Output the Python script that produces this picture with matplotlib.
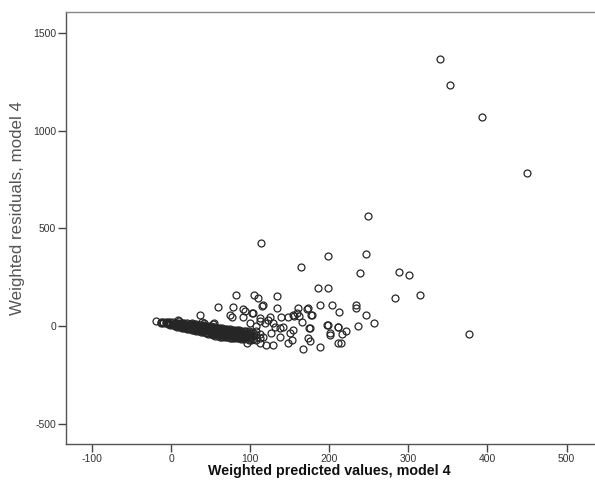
import matplotlib
matplotlib.use("Agg")
import matplotlib.pyplot as plt
import numpy as np

# Scattered (individually readable) points: weighted predicted value, weighted residual
pred_scatter = [340.6, 352.8, 393.7, 450.0, 249.0, 376.9,
                113.8, 198.0, 247.0, 164.8, 239.0, 288.8, 300.6, 283.0, 314.5, 186.0, 199.0,
                81.8, 105.0, 110.4, 133.6,
                59.8, 78.8, 91.0, 116.8, 134.0, 160.0, 173.0, 188.4, 203.0, 171.6,
                93.6, 104.0, 91.5, 76.7, 112.6, 125.0,
                36.7, 74.6, 102.8, 115.5, 39.0, 54.0, 10.5, 9.0, 26.0, 41.7, 53.5,
                155.6, 162.0, 165.0, 123.0, 139.0, 147.6, 112.6,
                154.7, 159.0, 178.0,
                129.0, 142.0, 154.7, 127.0, 138.0, 150.5, 152.6, 148.4, 173.6, 175.8, 167.0,
                199.0, 201.0, 188.4, 211.6, 211.6, 175.8, 138.0,
                100.0, 108.0, 119.0, 131.5, 95.7, 112.6, 120.0, 128.6, 116.8,
                177.0, 212.5, 233.6, 233.6, 246.0, 256.0, 236.5, 197.0, 211.0, 221.0, 216.0,
                201.0, 214.6, 174.5, -19.0]
resid_scatter = [1370, 1237, 1073, 786, 562, -41,
                 425, 360, 367, 303, 271, 278, 261, 142, 159, 197, 197,
                 159, 157, 145, 155,
                 99, 97, 87, 106, 91, 92, 94, 108, 108, 85,
                 79, 65, 48, 48, 39, 45,
                 56, 56, 65, 102, 22, 17, 27, 31, 17, 17, 10,
                 51, 51, 22, 31, 45, 45, 27,
                 56, 65, 56,
                 14, -3, -20, -38, -55, -38, -70, -89, -63, -75, -117,
                 5, -38, -108, -3, -89, -12, -12,
                 14, 0, 14, -3, -89, -89, -97, -97, -55,
                 58, 72, 106, 92, 58, 17, 2, 5, -7, -24, -41,
                 -48, -89, -12, 26]

# Dense cluster: columns of predicted value with the residuals stacked in each
band_cols = [-13, -10, -7, -4, -1, 2, 5, 8, 11, 14, 17, 20, 23, 26, 29, 32, 35, 38,
             41, 44, 47, 50, 53, 56, 59, 62, 65, 68, 71, 74, 77, 80, 83, 86, 89, 92,
             95, 98, 101, 104, 108, 112]
band_resid = [
    [22, 16], [21, 15], [21, 14], [20, 13, 8], [19, 12, 6], [18, 11, 4],
    [17, 10, 3, -1], [16, 9, 2, -4], [15, 8, 1, -6], [15, 8, 1, -6, -8],
    [14, 7, 0, -7, -10], [13, 6, -1, -8, -13], [12, 5, -2, -9, -16],
    [11, 4, -3, -10, -18], [9, 2, -5, -12, -19, -21], [8, 1, -6, -13, -20, -24],
    [7, 0, -7, -14, -21, -27], [5, -2, -9, -16, -23, -30], [4, -3, -10, -17, -24, -32],
    [2, -5, -12, -19, -26, -34], [0, -7, -14, -21, -28, -35, -40],
    [-2, -9, -16, -23, -30, -37, -43], [-4, -11, -18, -25, -32, -39, -46],
    [-6, -13, -20, -27, -34, -41, -49], [-8, -15, -22, -29, -36, -43, -52],
    [-10, -17, -24, -31, -38, -45, -54], [-12, -19, -26, -33, -40, -47, -56],
    [-13, -20, -27, -34, -41, -48, -57], [-15, -22, -29, -36, -43, -50, -58],
    [-16, -23, -30, -37, -44, -51, -59], [-18, -25, -32, -39, -46, -53, -60],
    [-19, -26, -33, -40, -47, -54, -62], [-20, -27, -34, -41, -48, -55, -63],
    [-22, -29, -36, -43, -50, -57, -64], [-24, -31, -38, -45, -52, -59, -65],
    [-26, -34, -42, -50, -58, -66], [-28, -37, -46, -55, -64],
    [-25, -36, -48, -60, -70], [-30, -45, -58, -72], [-35, -50, -66],
    [-28, -48, -70], [-40, -62]]

x_ticks = [-100, 0, 100, 200, 300, 400, 500]
y_ticks = [-500, 0, 500, 1000, 1500]

band_x = [c for c, ys in zip(band_cols, band_resid) for _ in ys]
band_y = [v for ys in band_resid for v in ys]

plt.rcParams['font.family'] = ['Liberation Sans', 'DejaVu Sans']
plt.rcParams['axes.unicode_minus'] = False

fig = plt.figure(figsize=(5.95, 4.86), dpi=100)
ax = fig.add_axes([66 / 595, 1 - 444 / 486, 1 - 66 / 595, (444 - 12) / 486])

mk = dict(linestyle='none', marker='o', markersize=5.0, markerfacecolor='none',
          markeredgecolor='#262626', markeredgewidth=0.9)
ax.plot(band_x, band_y, **mk)
ax.plot(pred_scatter, resid_scatter, **mk)

ax.set_xlim(-132.8, 536)
ax.set_ylim(-605, 1610)
ax.set_xticks(x_ticks)
ax.set_yticks(y_ticks)
ax.tick_params(direction='out', length=5.5, width=1.0, color='#444444',
               labelsize=7.5, labelcolor='#333333', pad=1.5)
for s in ['left', 'bottom', 'top']:
    ax.spines[s].set_color('#555555')
    ax.spines[s].set_linewidth(1.0)
ax.spines['top'].set_color('#888888')
ax.spines['right'].set_visible(False)

ax.set_xlabel('Weighted predicted values, model 4', fontsize=10.3, fontweight='bold',
              color='#111111')
ax.xaxis.set_label_coords((329 - 66) / 529, (444 - 471) / 432)
ax.xaxis.label.set_verticalalignment('center')
ax.set_ylabel('Weighted residuals, model 4', fontsize=12.2, color='#555555')
ax.yaxis.set_label_coords((18 - 66) / 529, (444 - 208.5) / 432)
ax.yaxis.label.set_verticalalignment('center')

fig.savefig('out.png', dpi=100, facecolor='white')
